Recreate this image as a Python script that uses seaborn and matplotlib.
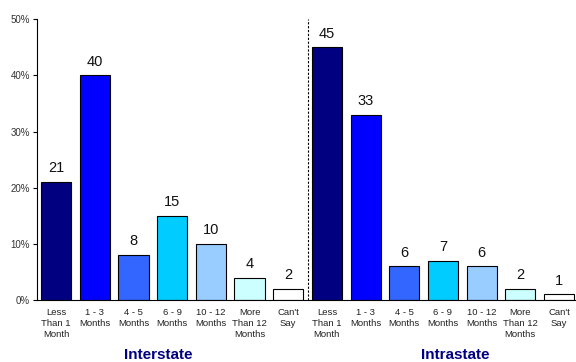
import matplotlib
matplotlib.use("Agg")
import matplotlib.pyplot as plt
import seaborn as sns
import numpy as np

durations = ["Less\nThan 1\nMonth", "1 - 3\nMonths", "4 - 5\nMonths", "6 - 9\nMonths",
             "10 - 12\nMonths", "More\nThan 12\nMonths", "Can't\nSay"]
interstate = [21, 40, 8, 15, 10, 4, 2]
intrastate = [45, 33, 6, 7, 6, 2, 1]
groups = ["Interstate", "Intrastate"]
bar_colors = ["#000080", "#0000FF", "#3366FF", "#00CCFF", "#99CCFF", "#CCFFFF", "#FFFFFF"]

values = interstate + intrastate
labels = durations + durations
pos = list(range(len(values)))

sns.set_style("white")
plt.rcParams['font.family'] = ['Liberation Sans', 'DejaVu Sans']

fig = plt.figure(figsize=(5.76, 3.62), dpi=100)
ax = fig.add_axes([0.064, 0.171, 0.94, 0.776])

sns.barplot(x=pos, y=values, hue=pos, palette=bar_colors * 2, legend=False,
            saturation=1, edgecolor="black", linewidth=0.8, width=0.78, ax=ax)

for x, v in zip(pos, values):
    ax.text(x, v + 1.2, str(v), ha="center", va="bottom", fontsize=10.5, color="#111111")

ax.set_ylim(0, 50)
ax.set_xlim(-0.5, len(values) - 0.5)
ax.set_yticks(np.arange(0, 51, 10))
ax.set_yticklabels([f"{t}%" for t in range(0, 51, 10)], fontsize=7, color="#333333")
ax.set_xticks(pos)
ax.set_xticklabels(labels, fontsize=6.8, color="#222222", linespacing=1.25)
ax.set_xticks(np.arange(-0.5, len(values), 1), minor=True)
ax.tick_params(axis="x", which="major", length=0, pad=6)
ax.tick_params(axis="x", which="minor", length=3, width=0.8, color="black", direction="out")
ax.tick_params(axis="y", length=3, width=0.8, color="black", direction="out", left=True, pad=2)
ax.set_xlabel("")
ax.set_ylabel("")

for s in ["top", "right"]:
    ax.spines[s].set_visible(False)
for s in ["left", "bottom"]:
    ax.spines[s].set_color("black")
    ax.spines[s].set_linewidth(0.8)

ax.axvline(6.5, ymin=0, ymax=1, color="black", linestyle=(0, (2, 1.5)), linewidth=0.8)

fig.text(158 / 576, 1 - 355 / 362, groups[0], ha="center", va="center",
         fontsize=11, fontweight="bold", color="#000080")
fig.text(455 / 576, 1 - 355 / 362, groups[1], ha="center", va="center",
         fontsize=11, fontweight="bold", color="#000080")

fig.savefig("out.png", dpi=100)
